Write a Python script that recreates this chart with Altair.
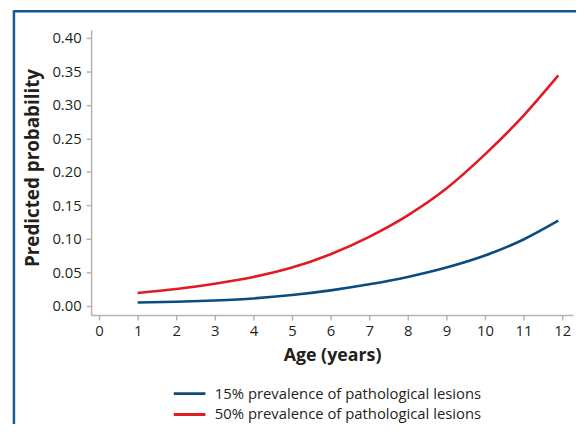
import altair as alt
import pandas as pd

ages = [1, 2, 3, 4, 5, 6, 7, 8, 9, 10, 11, 11.9]
p15 = [0.005, 0.006, 0.008, 0.011, 0.016, 0.023, 0.032, 0.043, 0.057, 0.075, 0.099, 0.127]
p50 = [0.019, 0.025, 0.033, 0.043, 0.057, 0.077, 0.103, 0.135, 0.175, 0.226, 0.284, 0.344]
series_names = ["15% prevalence of pathological lesions", "50% prevalence of pathological lesions"]
x_ticks = list(range(0, 13))
y_ticks = [0.0, 0.05, 0.10, 0.15, 0.20, 0.25, 0.30, 0.35, 0.40]

rows = []
for a, v in zip(ages, p15):
    rows.append({"age": a, "prob": v, "series": series_names[0]})
for a, v in zip(ages, p50):
    rows.append({"age": a, "prob": v, "series": series_names[1]})
df = pd.DataFrame(rows)

FONT = "Open Sans"
TXT = "#231f20"
AXC = "#b3b3b3"

lines = alt.Chart(df).mark_line(strokeWidth=2.6, interpolate="monotone").encode(
    x=alt.X("age:Q",
            scale=alt.Scale(domain=[-0.205, 12.282], nice=False, zero=False),
            axis=alt.Axis(values=x_ticks, title="Age (years)", grid=False,
                          domainColor=AXC, domainWidth=1.5, tickColor=AXC, tickWidth=1.5,
                          tickSize=5, labelFontSize=15, labelFont=FONT, labelColor=TXT,
                          labelPadding=4, titleFont=FONT, titleFontSize=18, titleFontWeight="bold",
                          titleColor=TXT, titlePadding=8, labelFlush=False)),
    y=alt.Y("prob:Q",
            scale=alt.Scale(domain=[-0.0137, 0.4118], nice=False, zero=False),
            axis=alt.Axis(values=y_ticks, format=".2f", title="Predicted probability", grid=False,
                          domainColor=AXC, domainWidth=1.5, tickColor=AXC, tickWidth=1.5,
                          tickSize=5, labelFontSize=15, labelFont=FONT, labelColor=TXT,
                          labelPadding=5, titleFont=FONT, titleFontSize=19, titleFontWeight="bold",
                          titleColor=TXT, titlePadding=9, titleY=139, labelFlush=False)),
    color=alt.Color("series:N",
                    scale=alt.Scale(domain=series_names, range=["#0b4c80", "#e01b24"]),
                    legend=alt.Legend(title=None, orient="none", legendX=90, legendY=358,
                                      symbolType="M-2,0H2", symbolSize=256, symbolStrokeWidth=3,
                                      labelFont=FONT, labelFontSize=15, labelColor=TXT,
                                      labelLimit=400, labelOffset=16, rowPadding=3)),
)

frame_df = pd.DataFrame({"k": [0]})
left_line = alt.Chart(frame_df).mark_rule(color="#125a94", strokeWidth=2.5).encode(
    x=alt.value(-78), y=alt.value(-20), y2=alt.value(430))
top_line = alt.Chart(frame_df).mark_rule(color="#125a94", strokeWidth=2.5).encode(
    x=alt.value(-78), x2=alt.value(500), y=alt.value(-19))

chart = alt.layer(lines, left_line, top_line).properties(
    width=487, height=288,
    autosize=alt.AutoSizeParams(type="none"),
    padding={"left": 84, "top": 20, "right": 3, "bottom": 108},
).configure_view(stroke=None)

chart.save("out.html", embed_options={"renderer": "svg", "actions": False})
